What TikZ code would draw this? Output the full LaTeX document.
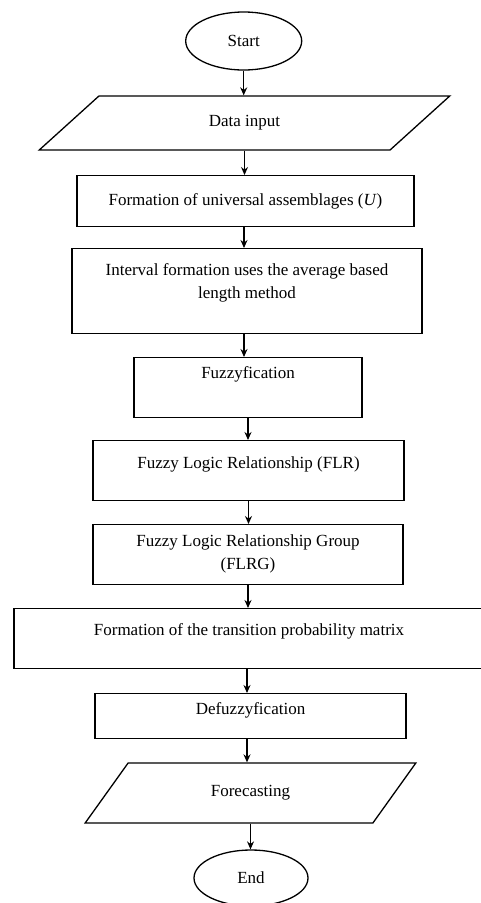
\documentclass[tikz,border=0pt]{standalone}
\usepackage{fontspec}
\setmainfont{Liberation Serif}
\usetikzlibrary{shapes.geometric,arrows.meta}

\tikzset{
  ovalbox/.style={draw,ellipse,line width=1.3pt,inner sep=0pt},
  iobox/.style={draw,trapezium,trapezium stretches=true,line width=1.3pt,inner sep=0pt},
  procbox/.style={draw,rectangle,line width=1.3pt,inner sep=0pt,align=center,anchor=north},
  flow/.style={-{Stealth[length=8pt,width=7pt]},line width=1.2pt}
}

\begin{document}
\begin{tikzpicture}[x=1pt,y=-1pt,every node/.style={font=\fontsize{17}{23}\selectfont}]
        \useasboundingbox (0,0) rectangle (481,903);
        % terminals and input/output
        \node[ovalbox,minimum width=116pt,minimum height=58pt] (start) at (243.7,41) {Start};
        \node[iobox,trapezium left angle=45.5,trapezium right angle=134.5,minimum width=413pt,minimum height=54pt] (data) at (244.5,123) {Data input};
        % process steps
        \node[procbox,minimum width=337pt,text height=30pt,text depth=21pt] (univ) at (245.5,175) {Formation of universal assemblages (\textit{U})};
        \node[procbox,minimum width=350pt,text height=50pt,text depth=35pt] (interval) at (247,248) {Interval formation uses the average based\\length method};
        \node[procbox,minimum width=228pt,text height=21pt,text depth=39pt] (fuzzy) at (248,357) {Fuzzyfication};
        \node[procbox,minimum width=311pt,text height=28pt,text depth=32pt] (flr) at (248.5,440) {Fuzzy Logic Relationship (FLR)};
        \node[procbox,minimum width=310pt,text height=45pt,text depth=15pt] (flrg) at (248,524) {Fuzzy Logic Relationship Group\\(FLRG)};
        \node[procbox,minimum width=470pt,text height=27pt,text depth=33pt] (trans) at (249,608) {Formation of the transition probability matrix};
        \node[procbox,minimum width=311pt,text height=21pt,text depth=24pt] (defuzzy) at (250.5,693) {Defuzzyfication};
        \node[iobox,trapezium left angle=47,trapezium right angle=133,minimum width=331pt,minimum height=60pt] (forecast) at (250.5,793) {Forecasting};
        \node[ovalbox,minimum width=114pt,minimum height=56pt] (end) at (251,878) {End};
        % arrows
        \draw[flow] (start.south) -- (start.south |- data.north);
        \draw[flow] (data.south) -- (data.south |- univ.north);
        \draw[flow] ([xshift=-1.5pt]univ.south) -- ([xshift=-1.5pt]univ.south |- interval.north);
        \draw[flow] ([xshift=-3pt]interval.south) -- ([xshift=-3pt]interval.south |- fuzzy.north);
        \draw[flow] (fuzzy.south) -- (fuzzy.south |- flr.north);
        \draw[flow] (flr.south) -- (flr.south |- flrg.north);
        \draw[flow] (flrg.south) -- (flrg.south |- trans.north);
        \draw[flow] ([xshift=-2pt]trans.south) -- ([xshift=-2pt]trans.south |- defuzzy.north);
        \draw[flow] ([xshift=-3.5pt]defuzzy.south) -- ([xshift=-3.5pt]defuzzy.south |- forecast.north);
        \draw[flow] (forecast.south) -- (forecast.south |- end.north);
      \end{tikzpicture}
\end{document}
